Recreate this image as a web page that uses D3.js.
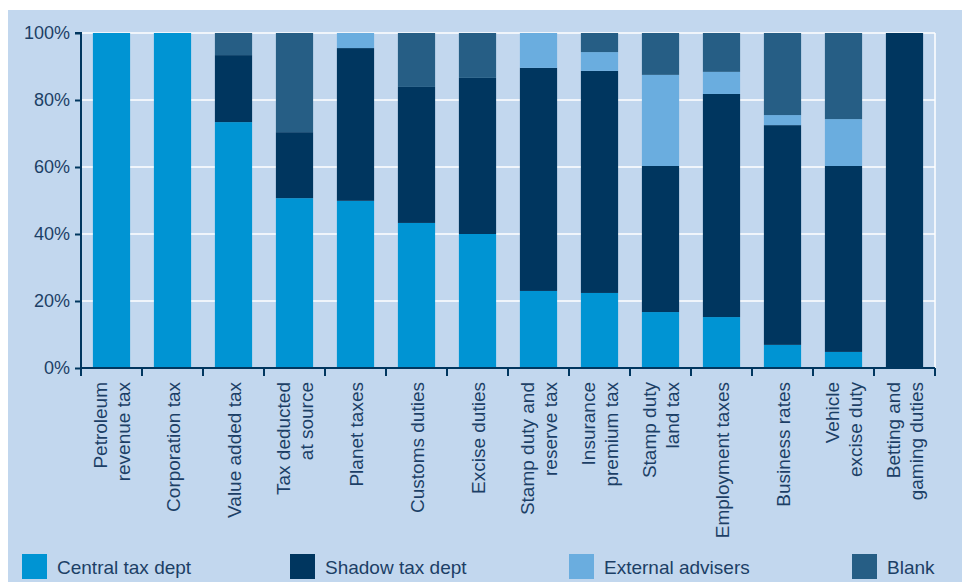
<!DOCTYPE html>
<html><head><meta charset="utf-8">
<script src="https://cdn.jsdelivr.net/npm/d3@7/dist/d3.min.js"></script>
<style>body{margin:0;background:#fff;}svg{display:block;font-family:"Liberation Sans",Arial,sans-serif;}</style>
</head><body><svg id="c" width="962" height="582"></svg>
<script>
const categories = [
  ["Petroleum","revenue tax"],["Corporation tax"],["Value added tax"],["Tax deducted","at source"],
  ["Planet taxes"],["Customs duties"],["Excise duties"],["Stamp duty and","reserve tax"],
  ["Insurance","premium tax"],["Stamp duty","land tax"],["Employment taxes"],["Business rates"],
  ["Vehicle","excise duty"],["Betting and","gaming duties"]
];
const seriesNames = ["Central tax dept","Shadow tax dept","External advisers","Blank"];
const central  = [100,100,73.4,50.7,49.9,43.3,40.0,23.0,22.4,16.7,15.2,6.9,4.8,0];
const shadow   = [0,0,20.0,19.7,45.6,40.6,46.6,66.6,66.3,43.6,66.6,65.6,55.5,100];
const external = [0,0,0,0,4.5,0,0,10.4,5.6,27.2,6.6,3.0,14.0,0];
const blank    = [0,0,6.6,29.6,0,16.1,13.4,0,5.7,12.5,11.6,24.5,25.7,0];
const yTicks = [0,20,40,60,80,100];
const colors = ["#0094d3","#00365f","#6aaddf","#265e85"];

(function(){
const svg = d3.select("#c");
svg.append("rect").attr("x",8).attr("y",10).attr("width",954).attr("height",572).attr("fill","#c2d7ee");

const pL=81,pR=935,pT=33,pB=368;
const x = d3.scaleBand().domain(d3.range(categories.length)).range([pL,pR]).paddingInner(0.39).paddingOuter(0.195);
const y = d3.scaleLinear().domain([0,100]).range([pB,pT]);
const textCol="#1c3f66";

svg.append("g").selectAll("line").data(yTicks.filter(d=>d>0)).join("line")
  .attr("x1",pL).attr("x2",pR).attr("y1",d=>y(d)).attr("y2",d=>y(d))
  .attr("stroke","#fff").attr("stroke-width",1.5);
svg.append("line").attr("x1",pR).attr("x2",pR).attr("y1",pT).attr("y2",pB).attr("stroke","#fff").attr("stroke-width",1.5);

const rows = categories.map((c,i)=>({i,central:central[i],shadow:shadow[i],external:external[i],blank:blank[i]}));
const stack = d3.stack().keys(["central","shadow","external","blank"])(rows);
svg.append("g").selectAll("g").data(stack).join("g").attr("fill",(d,k)=>colors[k])
  .selectAll("rect").data(d=>d).join("rect")
  .attr("x",d=>x(d.data.i)).attr("width",x.bandwidth())
  .attr("y",d=>y(Math.min(100,d[1]))).attr("height",d=>Math.max(0,y(d[0])-y(Math.min(100,d[1]))));

const ya = svg.append("g").attr("transform",`translate(${pL},0)`)
  .call(d3.axisLeft(y).tickValues(yTicks).tickFormat(d=>d+"%").tickSize(6).tickPadding(5));
ya.select(".domain").attr("stroke","#00365f").attr("stroke-width",2).attr("d",`M-6,${pT}H0V${pB}`);
ya.selectAll(".tick line").attr("stroke","#00365f").attr("stroke-width",2);
ya.selectAll("text").attr("fill",textCol).attr("font-size",18).attr("font-family","Liberation Sans, Arial, sans-serif");

const step = x.step();
const tickXs = d3.range(categories.length+1).map(i=>pL+i*step);
const xa = svg.append("g");
xa.append("line").attr("x1",pL).attr("x2",pR).attr("y1",pB).attr("y2",pB).attr("stroke","#00365f").attr("stroke-width",2);
xa.selectAll(".t").data(tickXs).join("line").attr("class","t")
  .attr("x1",d=>d).attr("x2",d=>d).attr("y1",pB).attr("y2",pB+8).attr("stroke","#00365f").attr("stroke-width",2);

const lh = 22.5;
const labels = svg.append("g");
categories.forEach((lines,i)=>{
  const cx = x(i)+x.bandwidth()/2;
  const n = lines.length;
  lines.forEach((ln,j)=>{
    const off = (j-(n-1)/2)*lh;
    labels.append("text").attr("transform",`translate(${cx+off+7},${pB+14}) rotate(-90)`)
      .attr("text-anchor","end").attr("fill",textCol).attr("font-size",19).text(ln);
  });
});

const legX=[22,290,569,852];
const lg = svg.append("g");
seriesNames.forEach((s,k)=>{
  lg.append("rect").attr("x",legX[k]).attr("y",554).attr("width",25).attr("height",25).attr("fill",colors[k]);
  lg.append("text").attr("x",legX[k]+35).attr("y",574).attr("fill",textCol).attr("font-size",19).text(s);
});
})();
</script></body></html>
